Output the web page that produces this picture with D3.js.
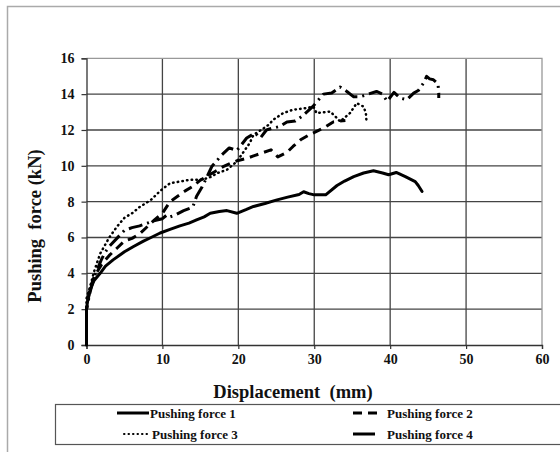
<!DOCTYPE html>
<html>
<head>
<meta charset="utf-8">
<script src="https://cdn.jsdelivr.net/npm/d3@7"></script>
<style>
  body { margin: 0; background: #fff; }
  svg { display: block; }
  svg text { font-family: "Times New Roman", "Liberation Serif", "DejaVu Serif", serif; font-weight: bold; fill: #111; }
</style>
</head>
<body>
<div id="chart"></div>
<script>
// axis ticks
const xTicks = [0, 10, 20, 30, 40, 50, 60];
const yTicks = [0, 2, 4, 6, 8, 10, 12, 14, 16];

// series names
const seriesNames = ["Pushing force 1", "Pushing force 2", "Pushing force 3", "Pushing force 4"];

// displacement (mm) / force (kN)
const force1 = [[0,0],[0,2],[0.2,2.6],[0.5,3.1],[1,3.6],[1.8,4.0],[2.5,4.4],[3.5,4.75],[5,5.2],[6.2,5.5],
  [7.5,5.8],[8.5,6.0],[9.7,6.25],[11,6.45],[12.3,6.65],[13.5,6.8],[14.5,6.98],[15.5,7.15],[16.3,7.35],
  [17.5,7.45],[18.5,7.5],[19.8,7.35],[21,7.55],[22,7.73],[23.5,7.9],[25.1,8.1],[26.5,8.25],[28,8.4],
  [28.6,8.55],[29.3,8.45],[30,8.38],[31.5,8.38],[33,8.9],[34,9.15],[35.2,9.4],[36.5,9.6],[37.8,9.72],
  [39,9.6],[39.8,9.5],[40.8,9.63],[42,9.4],[43.3,9.12],[43.7,8.9],[44.2,8.57]];

const force2 = [[0,0],[0,2],[0.5,3.2],[1,3.8],[2,4.5],[3,5.0],[4,5.4],[5,5.8],[6,5.95],[7,6.2],
  [8,6.6],[9,7.0],[10,7.35],[11,8.0],[12,8.3],[13,8.6],[14,8.85],[15,9.2],[16,9.45],[17,9.7],
  [18,9.95],[19,10.15],[20,10.3],[21,10.4],[22,10.55],[23,10.7],[24.3,10.89],[25.2,10.5],[26.4,10.75],
  [27.2,11.08],[28.2,11.45],[29.2,11.7],[30.3,11.92],[31.4,12.15],[32.5,12.45],[34.1,12.53]];

const force3 = [[0,0],[0,2.6],[0.5,3.3],[1,4.1],[1.8,5.1],[3,6.0],[4,6.6],[5,7.1],[6,7.35],[7,7.7],
  [8.5,8.1],[9.7,8.6],[11,9.03],[12.3,9.12],[13.6,9.22],[15.2,9.22],[16.5,9.4],[17.2,9.59],[18.5,9.78],
  [19.8,10.24],[21.5,11.27],[22,11.73],[23,12.0],[24,12.29],[24.6,12.57],[25.9,12.94],[27.2,13.13],
  [28.6,13.2],[29.9,13.3],[30.3,12.94],[32.1,13.03],[33,12.66],[33.4,12.47],[34.7,12.94],[35.6,13.5],
  [36.5,13.3],[36.8,12.94],[36.9,12.38]];

const force4 = [[0,0],[0,2],[0.5,3.0],[1,3.8],[2,4.8],[2.5,5.2],[3,5.5],[4,5.95],[5,6.4],[6,6.55],
  [7,6.65],[8,6.8],[9,6.95],[10,7.05],[10.6,7.26],[11,7.15],[11.7,7.26],[12.8,7.5],[14,7.7],[14.5,8.3],
  [15.2,8.8],[16,9.5],[16.5,9.96],[17.8,10.6],[18.8,11.0],[19.8,10.85],[21.1,11.55],[22.2,11.83],
  [22.9,11.55],[23.7,12.0],[24.5,12.1],[25.5,12.2],[26.4,12.45],[27.5,12.5],[28.5,12.8],[29.9,13.35],
  [31.2,14.0],[32.3,14.06],[33.4,14.4],[34.3,14.15],[35.2,13.85],[36,13.85],[36.9,13.97],[38.2,14.15],
  [39,14.0],[39.6,13.6],[40.5,14.1],[41.3,13.78],[42.2,13.69],[43.1,14.06],[43.7,14.2],[44.4,14.62],
  [44.8,14.99],[45.2,14.85],[45.7,14.8],[46.3,14.58],[46.4,14.06],[46.4,13.78]];

const allSeries = [force1, force2, force3, force4];
const dashes = [null, "9,6", "0.5,4.2", "14,5,2,5"];
const caps = ["round", "butt", "round", "butt"];

const W = 560, H = 452;
const plotLeft = 86.5, plotRight = 542, plotTop = 58.3, plotBottom = 345;
const serif = "Times New Roman, Liberation Serif, DejaVu Serif, serif";

const svg = d3.select("#chart").append("svg")
  .attr("width", W)
  .attr("height", H);

// outer frame
svg.append("path")
  .attr("d", `M7.5,${H} V6.5 H${W}`)
  .attr("fill", "none")
  .attr("stroke", "#aaa")
  .attr("stroke-width", 1.5);

const x = d3.scaleLinear().domain([0, 60]).range([plotLeft, plotRight]);
const y = d3.scaleLinear().domain([0, 16]).range([plotBottom, plotTop]);

// grid
svg.append("g").selectAll("line")
  .data(xTicks.slice(1, -1))
  .enter().append("line")
  .attr("x1", d => x(d)).attr("x2", d => x(d))
  .attr("y1", plotTop).attr("y2", plotBottom)
  .attr("stroke", "#444").attr("stroke-width", 1.3);

svg.append("g").selectAll("line")
  .data(yTicks.slice(1, -1))
  .enter().append("line")
  .attr("x1", plotLeft).attr("x2", plotRight)
  .attr("y1", d => y(d)).attr("y2", d => y(d))
  .attr("stroke", "#444").attr("stroke-width", 1.3);

// plot border top/right (gray)
svg.append("path")
  .attr("d", `M${plotLeft},${plotTop} H${plotRight} V${plotBottom}`)
  .attr("fill", "none")
  .attr("stroke", "#999")
  .attr("stroke-width", 1.3);

// axes
const xAxis = svg.append("g")
  .attr("transform", `translate(0,${plotBottom})`)
  .call(d3.axisBottom(x).tickValues(xTicks).tickSize(4).tickPadding(5));
const yAxis = svg.append("g")
  .attr("transform", `translate(${plotLeft},0)`)
  .call(d3.axisLeft(y).tickValues(yTicks).tickSize(5).tickPadding(7));

[xAxis, yAxis].forEach(g => {
  g.attr("font-family", serif);
  g.select(".domain").attr("stroke", "#333").attr("stroke-width", 1.3);
  g.selectAll(".tick line").attr("stroke", "#333").attr("stroke-width", 1.2);
  g.selectAll(".tick text")
    .attr("font-weight", "bold")
    .attr("font-size", 14)
    .attr("fill", "#111");
});

// axis titles
svg.append("text")
  .attr("x", 293).attr("y", 398)
  .attr("text-anchor", "middle")
  .attr("font-size", 18.5)
  .style("white-space", "pre")
  .text("Displacement  (mm)");

svg.append("text")
  .attr("transform", "translate(41,226) rotate(-90)")
  .attr("text-anchor", "middle")
  .attr("font-size", 18.5)
  .style("white-space", "pre")
  .text("Pushing  force (kN)");

// series lines
const line = d3.line()
  .x(d => x(d[0]))
  .y(d => y(d[1]));

allSeries.forEach((s, i) => {
  svg.append("path")
    .datum(s)
    .attr("d", line)
    .attr("fill", "none")
    .attr("stroke", "#000")
    .attr("stroke-width", i === 2 ? 2.5 : 3)
    .attr("stroke-linecap", caps[i])
    .attr("stroke-linejoin", "round")
    .attr("stroke-dasharray", dashes[i]);
});

// legend
svg.append("rect")
  .attr("x", 55.5).attr("y", 404.5)
  .attr("width", 520).attr("height", 40)
  .attr("fill", "#fff")
  .attr("stroke", "#555")
  .attr("stroke-width", 1.2);

const legendPos = [
  { x1: 117, x2: 149, tx: 150, ty: 413 },
  { x1: 353, x2: 381, tx: 387, ty: 413 },
  { x1: 124, x2: 148, tx: 152, ty: 434 },
  { x1: 353, x2: 375, tx: 387, ty: 434 }
];
const legendDash = [null, "9,6", "0.5,4", null];

seriesNames.forEach((name, i) => {
  const p = legendPos[i];
  svg.append("line")
    .attr("x1", p.x1).attr("x2", p.x2)
    .attr("y1", p.ty).attr("y2", p.ty)
    .attr("stroke", "#000")
    .attr("stroke-width", i === 2 ? 2 : 3)
    .attr("stroke-linecap", i === 2 ? "round" : "butt")
    .attr("stroke-dasharray", legendDash[i]);
  svg.append("text")
    .attr("x", p.tx).attr("y", p.ty + 4.5)
    .attr("font-size", 13)
    .text(name);
});
</script>
</body>
</html>
